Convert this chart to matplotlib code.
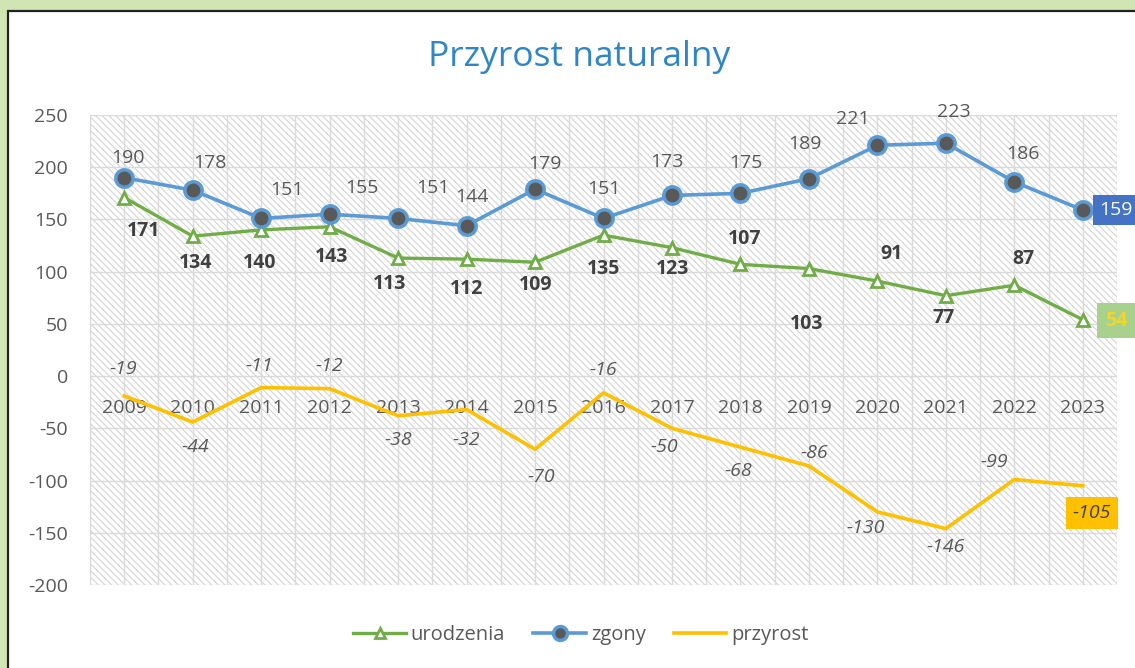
import matplotlib
matplotlib.use("Agg")
import matplotlib.pyplot as plt
from matplotlib.patches import Rectangle
from matplotlib.ticker import MultipleLocator

plt.rcParams['font.family'] = ['Open Sans', 'DejaVu Sans']
plt.rcParams['hatch.linewidth'] = 0.8
plt.rcParams['axes.unicode_minus'] = False

# dane
lata = ['2009', '2010', '2011', '2012', '2013', '2014', '2015', '2016',
        '2017', '2018', '2019', '2020', '2021', '2022', '2023']
urodzenia = [171, 134, 140, 143, 113, 112, 109, 135, 123, 107, 103, 91, 77, 87, 54]
zgony = [190, 178, 151, 155, 151, 144, 179, 151, 173, 175, 189, 221, 223, 186, 159]
przyrost = [-19, -44, -11, -12, -38, -32, -70, -16, -50, -68, -86, -130, -146, -99, -105]

# przesuniecia etykiet (px, w prawo / w dol)
off_ur = [(19, 33), (3, 27), (-2, 33), (2, 30), (-9, 26), (0, 30), (1, 23), (0, 34),
          (1, 21), (4, -25), (-2, 55), (14, -27), (-2, 22), (9, -26), (33, 1)]
off_zg = [(4, -20), (17, -27), (26, -28), (32, -26), (35, -30), (5, -29), (10, -25),
          (0, -29), (-5, -33), (5, -30), (-4, -35), (-25, -26), (8, -31), (9, -28), (33, 0)]
off_pr = [(-1, -27), (3, 25), (-2, -22), (0, -23), (0, 24), (0, 30), (6, 28), (0, -23),
          (-8, 19), (-2, 24), (5, -13), (-12, 16), (0, 18), (-20, -18), (9, 27)]

C_GREEN = '#70ad47'
C_BLUE = '#5b9bd5'
C_YELLOW = '#ffc000'
C_TXT = '#595959'

fig = plt.figure(figsize=(11.35, 6.68), dpi=100, facecolor='#d0e5b3')
fig.patches.append(Rectangle((8 / 1135, -0.05), 1.1, 0.05 + (668 - 11) / 668,
                             transform=fig.transFigure, facecolor='white',
                             edgecolor='#222222', linewidth=1.6, zorder=-5))

ax = fig.add_axes([90 / 1135, 83 / 668, 1027 / 1135, 470 / 668])
ax.patch.set_facecolor('white')
ax.patch.set_edgecolor('#d4d4d4')
ax.patch.set_linewidth(0)
ax.patch.set_hatch('\\\\\\\\\\')

x = list(range(len(lata)))
ax.plot(x, przyrost, color=C_YELLOW, lw=2.6, label='przyrost', zorder=3)
ax.plot(x, urodzenia, color=C_GREEN, lw=2.4, marker='^', ms=9, mfc='white',
        mec=C_GREEN, mew=2, label='urodzenia', zorder=4)
ax.plot(x, zgony, color=C_BLUE, lw=2.6, marker='o', ms=12.5, mfc='#595959',
        mec=C_BLUE, mew=2.5, label='zgony', zorder=5)

ax.set_xlim(-0.5, len(lata) - 0.5)
ax.set_ylim(-200, 250)
ax.yaxis.set_major_locator(MultipleLocator(50))
ax.set_xticks(x)
ax.set_xticklabels(lata)
ax.xaxis.set_minor_locator(MultipleLocator(0.5))
ax.spines['bottom'].set_position(('data', 0))
for s in ax.spines.values():
    s.set_visible(False)
ax.tick_params(axis='x', which='both', length=0, pad=16.5, labelsize=14, labelcolor=C_TXT)
ax.tick_params(axis='y', length=0, pad=16, labelsize=14, labelcolor=C_TXT)
ax.set_axisbelow(True)
ax.grid(True, which='both', axis='x', color='#dadada', lw=1)
ax.grid(True, which='major', axis='y', color='#dadada', lw=1)

n = len(lata)
for i in range(n):
    dx, dy = off_zg[i]
    kw = dict(textcoords='offset pixels', ha='center', va='center', fontsize=14,
              annotation_clip=False, zorder=6)
    if i == n - 1:
        ax.annotate(str(zgony[i]), (i, zgony[i]), xytext=(dx, -dy), color='white',
                    bbox=dict(boxstyle='square,pad=0.3', fc='#4472c4', ec='none'), **kw)
    else:
        ax.annotate(str(zgony[i]), (i, zgony[i]), xytext=(dx, -dy), color=C_TXT, **kw)

    dx, dy = off_ur[i]
    if i == n - 1:
        ax.annotate(str(urodzenia[i]), (i, urodzenia[i]), xytext=(dx, -dy), color='#f2d62a',
                    fontweight='bold',
                    bbox=dict(boxstyle='square,pad=0.4', fc='#a9d18e', ec='none'), **kw)
    else:
        ax.annotate(str(urodzenia[i]), (i, urodzenia[i]), xytext=(dx, -dy), color='#404040',
                    fontweight='bold', **kw)

    dx, dy = off_pr[i]
    if i == n - 1:
        ax.annotate(str(przyrost[i]), (i, przyrost[i]), xytext=(dx, -dy), color='#404040',
                    fontstyle='italic',
                    bbox=dict(boxstyle='square,pad=0.35', fc=C_YELLOW, ec='none'), **kw)
    else:
        ax.annotate(str(przyrost[i]), (i, przyrost[i]), xytext=(dx, -dy), color=C_TXT,
                    fontstyle='italic', **kw)

fig.text(579 / 1135, (668 - 57) / 668, 'Przyrost naturalny', ha='center', va='center',
         fontsize=25.5, color='#2e86c8')

h, l = ax.get_legend_handles_labels()
order = [1, 2, 0]
leg = fig.legend([h[k] for k in order], [l[k] for k in order], loc='center',
                 bbox_to_anchor=(581 / 1135, (668 - 635) / 668), ncol=3, frameon=False,
                 fontsize=14.5, handlelength=2.6, columnspacing=1.4, handletextpad=0.25)
for t in leg.get_texts():
    t.set_color(C_TXT)
for lh in leg.get_lines():
    lh.set_markersize(lh.get_markersize() * 0.8)

fig.savefig('out.png', dpi=100, facecolor=fig.get_facecolor())
